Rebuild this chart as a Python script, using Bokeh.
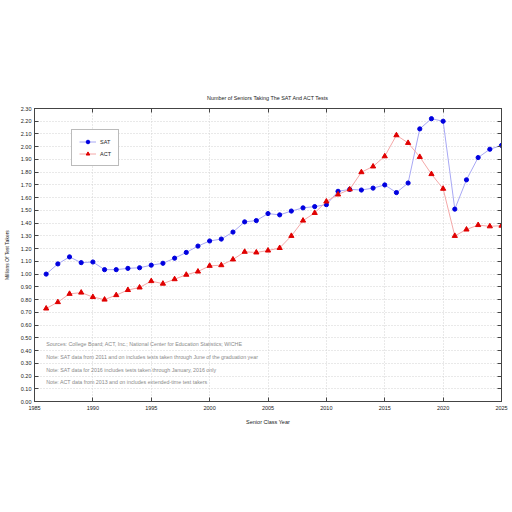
from bokeh.plotting import figure
from bokeh.models import LinearAxis, Range1d, FixedTicker, Legend, LegendItem, ColumnDataSource, CustomJSTickFormatter
from bokeh.embed import file_html
from bokeh.resources import INLINE
from bokeh.core.properties import value

years = list(range(1986, 2026))
sat = [1.00, 1.08, 1.135, 1.09, 1.095, 1.035, 1.035, 1.045, 1.05, 1.07,
       1.085, 1.125, 1.17, 1.22, 1.26, 1.275, 1.33, 1.41, 1.42, 1.475,
       1.465, 1.495, 1.52, 1.53, 1.545, 1.65, 1.665, 1.66, 1.675, 1.70,
       1.64, 1.715, 2.14, 2.22, 2.20, 1.51, 1.74, 1.915, 1.98, 2.01]
act = [0.73, 0.78, 0.845, 0.855, 0.82, 0.80, 0.835, 0.875, 0.895, 0.945,
       0.925, 0.96, 0.995, 1.02, 1.065, 1.07, 1.115, 1.175, 1.17, 1.185,
       1.205, 1.30, 1.42, 1.48, 1.57, 1.625, 1.665, 1.80, 1.845, 1.925,
       2.09, 2.03, 1.92, 1.785, 1.67, 1.30, 1.35, 1.385, 1.375, 1.38]

x_ticks = [1985, 1990, 1995, 2000, 2005, 2010, 2015, 2020, 2025]
y_ticks = [round(i * 0.1, 2) for i in range(24)]

notes = [
    "Sources: College Board; ACT, Inc.; National Center for Education Statistics; WICHE",
    "Note: SAT data from 2011 and on includes tests taken through June of the graduation year",
    "Note: SAT data for 2016 includes tests taken through January, 2016 only",
    "Note: ACT data from 2013 and on includes extended-time test takers",
]
note_x = [1986, 1986, 1986, 1986]
note_y = [0.45, 0.35, 0.25, 0.15]

FONT = "Liberation Sans"
AX = "#444444"

p = figure(width=512, height=512, output_backend="svg", toolbar_location=None,
           x_range=Range1d(1985, 2025), y_range=Range1d(0, 2.30),
           min_border_left=32, min_border_right=11, min_border_top=108, min_border_bottom=111,
           title="Number of Seniors Taking The SAT And ACT Tests")
p.title.align = "center"
p.title.text_font = FONT
p.title.text_font_size = "5.4px"
p.title.text_font_style = "normal"
p.title.text_color = "#222222"
p.title.standoff = 15
p.outline_line_color = AX
p.background_fill_color = "white"
p.border_fill_color = "white"

src = ColumnDataSource(dict(x=years, sat=sat, act=act))
l1 = p.line("x", "sat", source=src, line_color="#a8a8f4", line_width=1)
m1 = p.scatter("x", "sat", source=src, marker="circle", size=4.2, fill_color="#0000e0", line_color="#0000e0")
l2 = p.line("x", "act", source=src, line_color="#f4a8a8", line_width=1)
m2 = p.scatter("x", "act", source=src, marker="triangle", size=5.2, fill_color="#e00000", line_color="#e00000")

p.text(x=note_x, y=note_y, text=notes, text_font=value(FONT), text_font_size="5.3px",
       text_color="#8a8a8a", text_baseline="middle", text_align="left")

fmt = CustomJSTickFormatter(code="return tick.toFixed(2);")

def style_axis(ax, show_labels=True):
    ax.axis_line_color = AX
    ax.major_tick_line_color = AX
    ax.major_tick_in = 4
    ax.major_tick_out = 0
    ax.minor_tick_line_color = None
    ax.major_label_text_font = FONT
    ax.major_label_text_color = "#222222"
    ax.axis_label_text_font = FONT
    ax.axis_label_text_font_style = "normal"
    ax.axis_label_text_color = "#222222"
    ax.major_label_text_font_size = "5.5px"
    if not show_labels:
        ax.major_label_text_color = None
        ax.major_label_text_alpha = 0
        ax.major_label_standoff = 0

xa = p.xaxis[0]
xa.ticker = FixedTicker(ticks=x_ticks)
style_axis(xa)
xa.major_label_standoff = 4
xa.axis_label = "Senior Class Year"
xa.axis_label_text_font_size = "5.5px"
xa.axis_label_standoff = 6

ya = p.yaxis[0]
ya.ticker = FixedTicker(ticks=y_ticks)
ya.formatter = fmt
style_axis(ya)
ya.major_label_standoff = 3
ya.axis_label = "Millions Of Test Takers"
ya.axis_label_text_font_size = "5px"
ya.axis_label_standoff = 8

ra = LinearAxis(ticker=FixedTicker(ticks=y_ticks))
style_axis(ra, show_labels=False)
p.add_layout(ra, "right")
ta = LinearAxis(ticker=FixedTicker(ticks=x_ticks))
style_axis(ta, show_labels=False)
p.add_layout(ta, "above")

for g in (p.xgrid[0], p.ygrid[0]):
    g.grid_line_color = "#d2d2d2"
    g.grid_line_dash = "1 2"
    g.grid_line_width = 1
p.xgrid[0].ticker = FixedTicker(ticks=x_ticks)
p.ygrid[0].ticker = FixedTicker(ticks=y_ticks)

legend = Legend(items=[LegendItem(label="SAT", renderers=[l1, m1]),
                       LegendItem(label="ACT", renderers=[l2, m2])],
                location=(37, 235))
legend.label_text_font = FONT
legend.label_text_font_size = "5.5px"
legend.label_text_color = "#222222"
legend.glyph_width = 17
legend.glyph_height = 9
legend.label_height = 9
legend.label_width = 10
legend.label_standoff = 4
legend.spacing = 3
legend.padding = 7
legend.margin = 0
legend.border_line_color = "#777777"
legend.border_line_width = 1
legend.background_fill_color = "white"
legend.background_fill_alpha = 1
p.add_layout(legend, "center")

open("out.html", "w").write(file_html(p, INLINE))
